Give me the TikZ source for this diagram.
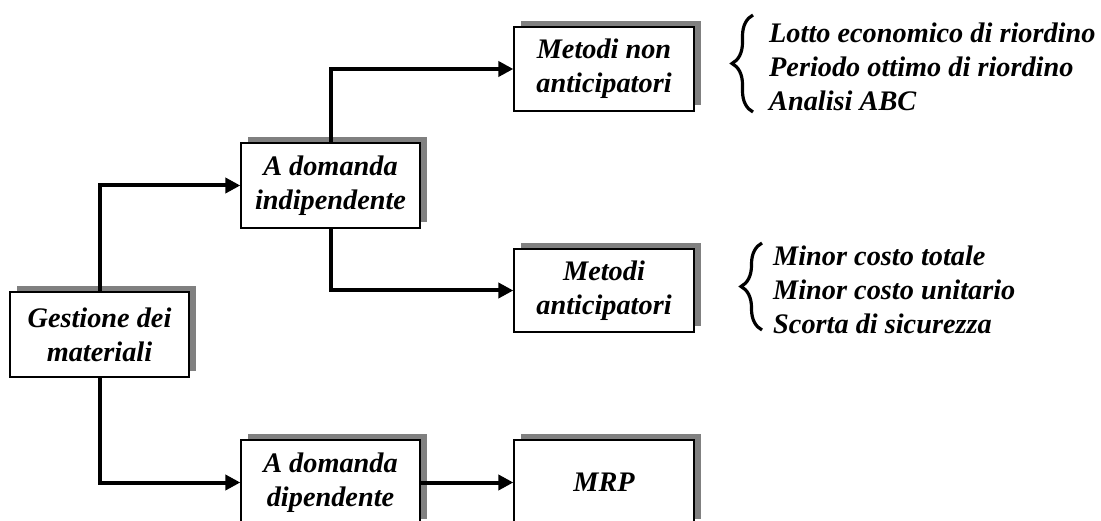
\documentclass[tikz,border=0pt]{standalone}
\usepackage{fontspec}
\setmainfont{Liberation Serif}
\usetikzlibrary{arrows.meta,shadows,decorations.pathreplacing}
\begin{document}
\begin{tikzpicture}[x=1pt,y=-1pt,
  boxnode/.style={draw=black, line width=1.3pt, fill=white, rectangle,
    minimum width=179pt, minimum height=85pt, inner sep=0pt, align=center,
    general shadow={fill=black!50, shadow xshift=7pt, shadow yshift=6pt}},
  flowarrow/.style={line width=4pt, -{Triangle[length=15pt,width=15pt]}},
  listbrace/.style={decorate, decoration={brace, amplitude=21pt}, line width=3.2pt},
  listtext/.style={anchor=west, align=left, inner sep=0pt}
]
\useasboundingbox (0,0) rectangle (1101,521);
\clip (0,0) rectangle (1101,521);
\tikzset{every node/.append style={font=\fontsize{28.3pt}{34pt}\selectfont\bfseries\itshape}}

% boxes
\node[boxnode] (gest)   at (99.5,334.5) {Gestione dei\\materiali};
\node[boxnode] (indip)  at (330.5,185.5) {A domanda\\indipendente};
\node[boxnode] (dip)    at (330.5,482.5) {A domanda\\dipendente};
\node[boxnode, minimum width=180pt, minimum height=84pt] (nonant) at (604,69) {Metodi non\\anticipatori};
\node[boxnode, minimum width=180pt, minimum height=83pt] (ant)    at (604,290.5) {Metodi\\anticipatori};
\node[boxnode, minimum width=180pt] (mrp) at (604,482.5) {MRP};

% connectors
\draw[flowarrow] (gest.north) |- (indip.west);
\draw[flowarrow] (gest.south) |- (dip.west);
\draw[flowarrow] (indip.north) |- (nonant.west);
\draw[flowarrow] (indip.south) |- (ant.west);
\draw[flowarrow] (dip.east) -- (mrp.west);

% method lists
\coordinate (b1s) at (753,112);
\coordinate (b1e) at (753,15);
\draw[listbrace] (b1s) -- (b1e);
\node[listtext] (list1) at (769,67) {Lotto economico di riordino\\Periodo ottimo di riordino\\Analisi ABC};

\coordinate (b2s) at (762,330);
\coordinate (b2e) at (762,243);
\draw[listbrace] (b2s) -- (b2e);
\node[listtext] (list2) at (773,290) {Minor costo totale\\Minor costo unitario\\Scorta di sicurezza};
\end{tikzpicture}
\end{document}
